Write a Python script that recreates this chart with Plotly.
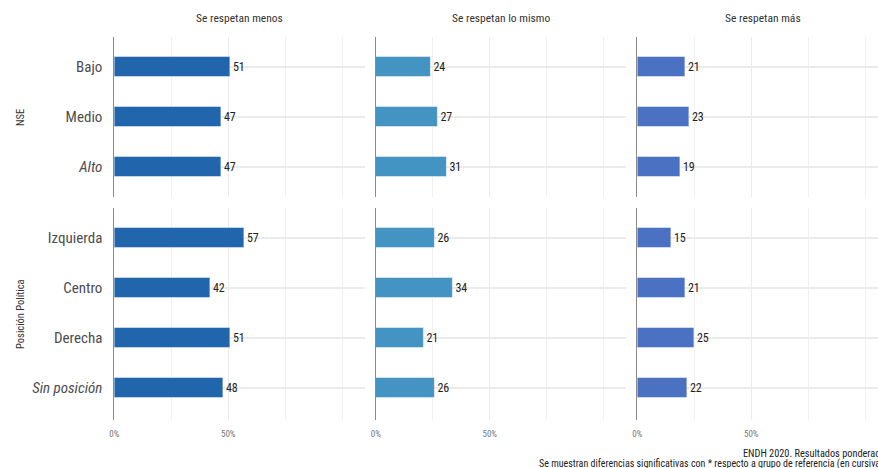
import plotly.graph_objects as go

# ---- data ----
responses = ["Se respetan menos", "Se respetan lo mismo", "Se respetan más"]
nse_cats = ["Bajo", "Medio", "Alto"]
pol_cats = ["Izquierda", "Centro", "Derecha", "Sin posición"]
nse_menos = [51, 47, 47]
nse_mismo = [24, 27, 31]
nse_mas = [21, 23, 19]
pol_menos = [57, 42, 51, 48]
pol_mismo = [26, 34, 21, 26]
pol_mas = [15, 21, 25, 22]
ref_cats = ["Alto", "Sin posición"]  # reference groups (italic)
x_tickvals = [0, 50]
x_ticktext = ["0%", "50%"]
row_titles = ["NSE", "Posición Política"]
caption = ["ENDH 2020. Resultados ponderados.",
           "Se muestran diferencias significativas con * respecto a grupo de referencia (en cursiva)"]
colors = ["#2166ac", "#4393c3", "#4b72c2"]

W, H = 878, 468
FONT = "Roboto Condensed, Liberation Sans Narrow, Roboto, sans-serif"

# panel geometry (pixels)
col_px = [(110, 362), (373, 625), (636, 888)]
row_px = [(37, 197), (208, 420)]
XMAX = 110.0

fig = go.Figure()
rows = [(nse_cats, [nse_menos, nse_mismo, nse_mas]),
        (pol_cats, [pol_menos, pol_mismo, pol_mas])]

def lab(c):
    return f"<i>{c}</i>" if c in ref_cats else c

idx = 0
for r, (cats, series) in enumerate(rows):
    for c in range(3):
        idx += 1
        xa = "x" if idx == 1 else f"x{idx}"
        ya = "y" if idx == 1 else f"y{idx}"
        fig.add_trace(go.Bar(
            x=series[c], y=cats, orientation="h", xaxis=xa, yaxis=ya,
            width=0.4,
            marker=dict(color=colors[c], line=dict(color="rgba(255,255,255,0.45)", width=1)),
            text=[str(v) for v in series[c]], textposition="outside",
            outsidetextfont=dict(family=FONT, size=12, color="#222222"),
            cliponaxis=False, showlegend=False, hoverinfo="skip",
        ))
        x0, x1 = col_px[c]
        rng_max = XMAX
        if x1 > W:
            rng_max = XMAX * (W - x0) / (x1 - x0)
            x1 = W
        y0, y1 = row_px[r]
        n = len(cats)
        top_pad = 0.6
        bottom_pad = (y1 - y0) / 50.0 - (n - 1) - top_pad
        xkey = "xaxis" if idx == 1 else f"xaxis{idx}"
        ykey = "yaxis" if idx == 1 else f"yaxis{idx}"
        fig.layout[xkey] = dict(
            domain=[x0 / W, x1 / W], anchor=ya, range=[0, rng_max],
            tickvals=x_tickvals, ticktext=x_ticktext,
            showticklabels=(r == 1),
            tickfont=dict(family=FONT, size=9, color="#777777"),
            ticklabelstandoff=7,
            showgrid=True, gridcolor="#ebebeb", gridwidth=1.3,
            minor=dict(tickvals=[25, 75, 100], showgrid=True, gridcolor="#f0f0f0", gridwidth=1.3),
            zeroline=False, showline=False, ticks="", fixedrange=True,
        )
        fig.layout[ykey] = dict(
            domain=[1 - y1 / H, 1 - y0 / H], anchor=xa,
            type="category", categoryorder="array", categoryarray=cats,
            range=[n - 1 + bottom_pad, -top_pad],
            tickvals=cats, ticktext=[lab(cc) for cc in cats],
            showticklabels=(c == 0),
            tickfont=dict(family=FONT, size=15, color="#4d4d4d"),
            ticklabelstandoff=8,
            showgrid=True, gridcolor="#ebebeb", gridwidth=1.5,
            showline=True, linecolor="#8a8a8a", linewidth=1,
            zeroline=False, ticks="", fixedrange=True,
        )

ann = []
for c, title in enumerate(responses):
    x0, x1 = col_px[c]
    ann.append(dict(text=title, x=(x0 + x1) / 2 / W, y=1 - 18 / H, xref="paper", yref="paper",
                    xanchor="center", yanchor="middle", showarrow=False,
                    font=dict(family=FONT, size=11.5, color="#333333")))
for r, t in enumerate(row_titles):
    y0, y1 = row_px[r]
    ann.append(dict(text=t, x=15 / W, y=1 - (y0 + y1) / 2 / H, xref="paper", yref="paper",
                    xanchor="center", yanchor="middle", textangle=-90, showarrow=False,
                    font=dict(family=FONT, size=10.5, color="#333333")))
cap_left = [740, 535]
cap_size = [10.3, 10]
for i, line in enumerate(caption):
    ann.append(dict(text=line, x=cap_left[i] / W, y=1 - (453 + 11 * i) / H, xref="paper", yref="paper",
                    xanchor="left", yanchor="middle", align="left", showarrow=False,
                    font=dict(family=FONT, size=cap_size[i], color="#222222")))

fig.update_layout(
    width=W, height=H, margin=dict(l=0, r=0, t=0, b=0),
    paper_bgcolor="white", plot_bgcolor="white",
    barmode="overlay", annotations=ann, bargap=0,
)
fig.write_html("out.html", config={"displayModeBar": False},
               post_script="document.body.style.margin='0';document.body.style.overflow='hidden';")
